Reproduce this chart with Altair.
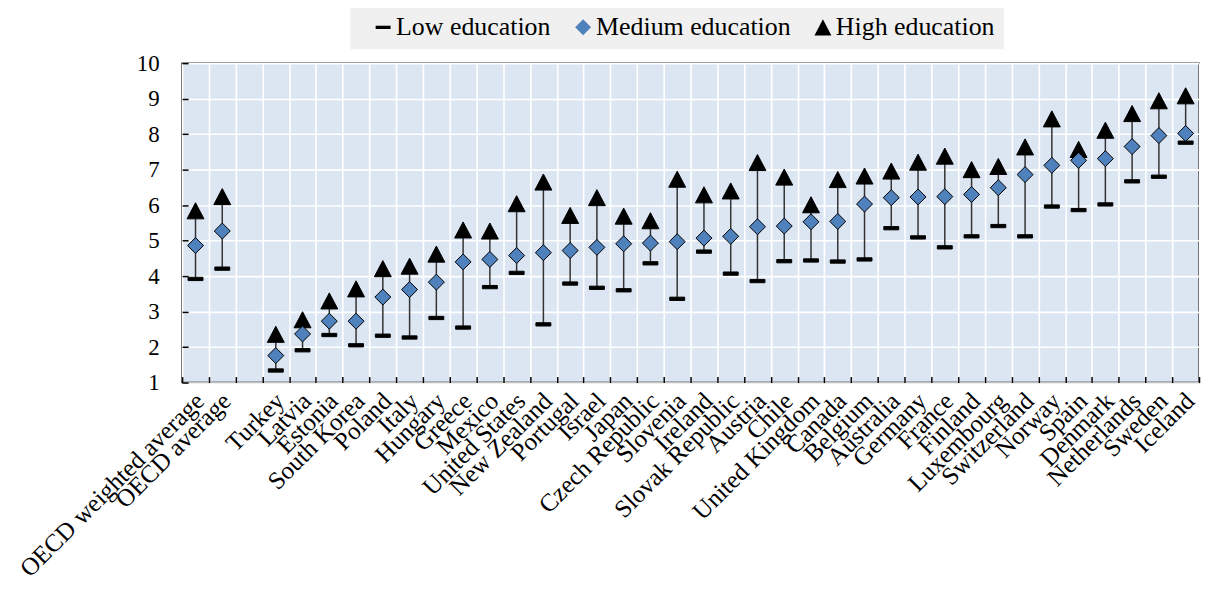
import altair as alt
import pandas as pd

countries = ["OECD weighted average", "OECD average", "Turkey", "Latvia", "Estonia",
             "South Korea", "Poland", "Italy", "Hungary", "Greece", "Mexico",
             "United States", "New Zealand", "Portugal", "Israel", "Japan",
             "Czech Republic", "Slovenia", "Ireland", "Slovak Republic", "Austria",
             "Chile", "United Kingdom", "Canada", "Belgium", "Australia", "Germany",
             "France", "Finland", "Luxembourg", "Switzerland", "Norway", "Spain",
             "Denmark", "Netherlands", "Sweden", "Iceland"]
low = [3.92, 4.21, 1.34, 1.91, 2.34, 2.05, 2.32, 2.27, 2.82, 2.55, 3.69,
       4.09, 2.64, 3.79, 3.67, 3.60, 4.36, 3.36, 4.69, 4.07, 3.86,
       4.42, 4.44, 4.41, 4.47, 5.35, 5.09, 4.81, 5.12, 5.41, 5.12,
       5.96, 5.86, 6.02, 6.67, 6.80, 7.76]
medium = [4.86, 5.27, 1.76, 2.37, 2.73, 2.73, 3.41, 3.62, 3.83, 4.40, 4.47,
          4.58, 4.66, 4.72, 4.81, 4.91, 4.93, 4.97, 5.07, 5.12, 5.39,
          5.41, 5.53, 5.54, 6.03, 6.21, 6.23, 6.24, 6.30, 6.49, 6.86,
          7.12, 7.26, 7.31, 7.65, 7.96, 8.02]
high = [5.84, 6.24, 2.36, 2.77, 3.30, 3.64, 4.21, 4.28, 4.62, 5.30, 5.27,
        6.04, 6.65, 5.71, 6.21, 5.69, 5.56, 6.73, 6.29, 6.40, 7.20,
        6.79, 6.01, 6.72, 6.82, 6.96, 7.21, 7.38, 7.00, 7.09, 7.64,
        8.43, 7.57, 8.11, 8.58, 8.94, 9.08]
# x-axis order, with an empty spacer slot after the OECD averages
x_order = countries[:2] + [" "] + countries[2:]
levels = ["Low education", "Medium education", "High education"]
y_ticks = list(range(1, 11))

df = pd.DataFrame({"country": countries, "Low education": low,
                   "Medium education": medium, "High education": high})

FONT = "Liberation Serif"

x_enc = alt.X("country:N", scale=alt.Scale(domain=x_order, paddingInner=0, paddingOuter=0),
              axis=alt.Axis(title=None, tickBand="extent", grid=True, gridColor="white",
                            gridWidth=1.6, domain=False, offset=-6, tickSize=6,
                            tickColor="black", tickWidth=1.5, labelAngle=-45,
                            labelAlign="right", labelBaseline="middle", labelPadding=14,
                            labelOffset=4, labelFontSize=25, labelLimit=400))
y_scale = alt.Scale(domain=[1, 10], nice=False, zero=False)
y_axis = alt.Axis(title=None, values=y_ticks, grid=True, gridColor="white", gridWidth=1.6,
                  domain=False, offset=-6, tickSize=6, tickColor="black", tickWidth=1.5,
                  labelPadding=23, labelFontSize=23)

rules = alt.Chart(df).mark_rule(color="#333333", strokeWidth=1.5).encode(
    x=x_enc,
    y=alt.Y("Low education:Q", scale=y_scale, axis=y_axis),
    y2="High education:Q",
)

shapes = ["M-1,-0.22L1,-0.22L1,0.22L-1,0.22Z", "diamond", "M0,-0.95L1,0.95L-1,0.95Z"]
legend = alt.Legend(orient="none", legendX=169, legendY=-58, direction="horizontal",
                    title=None, fillColor="#f0f0f0", padding=9, labelFontSize=26,
                    columnPadding=8, symbolOffset=11, labelOffset=0, labelLimit=400,
                    symbolStrokeColor="black", symbolStrokeWidth=1)

points = alt.Chart(df).transform_fold(
    ["Low education", "High education", "Medium education"], as_=["level", "value"]
).mark_point(filled=True, stroke="black", strokeWidth=1, opacity=1).encode(
    x=x_enc,
    y=alt.Y("value:Q", scale=y_scale, axis=y_axis),
    fill=alt.Fill("level:N", scale=alt.Scale(domain=levels,
                  range=["black", "#4f81bd", "black"]), legend=legend),
    shape=alt.Shape("level:N", scale=alt.Scale(domain=levels, range=shapes), legend=legend),
    size=alt.Size("level:N", scale=alt.Scale(domain=levels, range=[225, 289, 256]),
                  legend=legend),
)

chart = alt.layer(rules, points).properties(
    width=1022, height=321,
    autosize=alt.AutoSizeParams(type="none"),
    padding={"left": 175, "top": 54, "right": 5, "bottom": 200},
).configure(
    background="white", font=FONT
).configure_view(
    fill="#dce6f2", stroke="black", strokeWidth=1.5
).configure_axis(
    labelFont=FONT, labelColor="black"
).configure_legend(
    labelFont=FONT, labelColor="black"
)

chart.save("out.html", embed_options={"renderer": "svg", "actions": False})
